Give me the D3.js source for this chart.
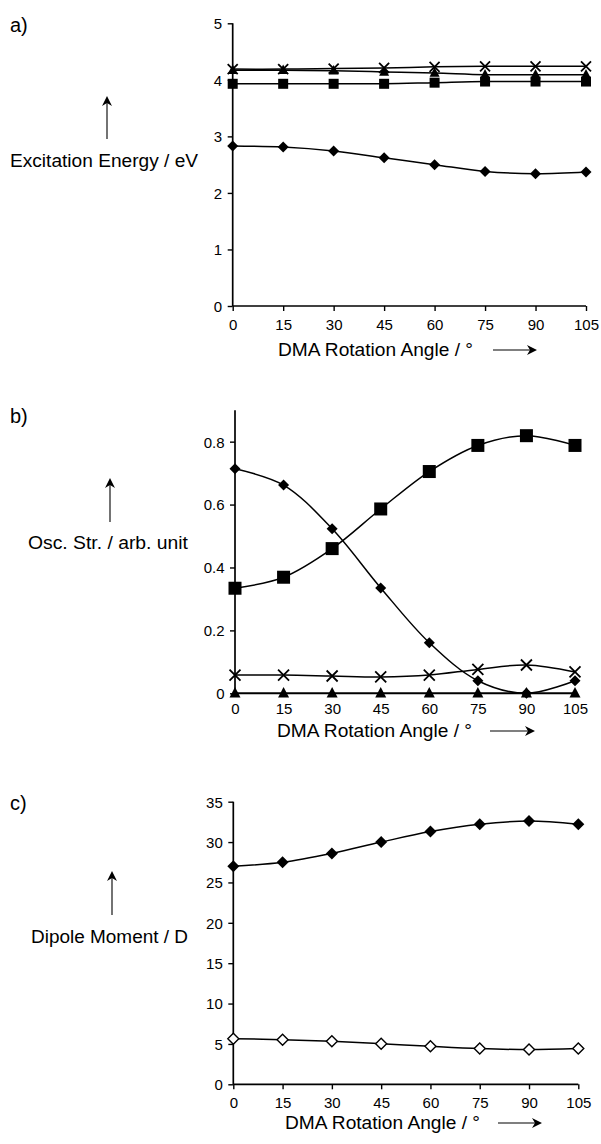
<!DOCTYPE html>
<html><head><meta charset="utf-8">
<script src="https://cdn.jsdelivr.net/npm/d3@7"></script>
<style>
body{margin:0;background:#fff;}
svg text{font-family:"Liberation Sans",Arial,sans-serif;fill:#000;}
</style></head>
<body>
<svg id="c" width="601" height="1144"></svg>
<script>
// ---------- data ----------
const angles = [0, 15, 30, 45, 60, 75, 90, 105];
const xTickLabels = ["0","15","30","45","60","75","90","105"];

// a) Excitation energy / eV
const excDiamond  = [2.83, 2.81, 2.74, 2.62, 2.50, 2.38, 2.34, 2.37];
const excSquare   = [3.93, 3.93, 3.93, 3.93, 3.95, 3.97, 3.97, 3.97];
const excTriangle = [4.17, 4.17, 4.16, 4.14, 4.12, 4.09, 4.09, 4.09];
const excCross    = [4.19, 4.19, 4.20, 4.21, 4.23, 4.24, 4.24, 4.24];
const excTicks = [0, 1, 2, 3, 4, 5];

// b) Oscillator strength / arb. unit
const oscDiamond  = [0.714, 0.662, 0.523, 0.335, 0.161, 0.040, 0.000, 0.040];
const oscSquare   = [0.334, 0.369, 0.460, 0.586, 0.705, 0.788, 0.819, 0.788];
const oscCross    = [0.058, 0.058, 0.055, 0.052, 0.058, 0.076, 0.090, 0.068];
const oscTriangle = [0, 0, 0, 0, 0, 0, 0, 0];
const oscTicks = [0, 0.2, 0.4, 0.6, 0.8];
const oscTickLabels = ["0","0.2","0.4","0.6","0.8"];

// c) Dipole moment / D
const dipFilled = [27.0, 27.5, 28.6, 30.0, 31.3, 32.2, 32.6, 32.2];
const dipOpen   = [5.65, 5.53, 5.32, 5.03, 4.70, 4.42, 4.30, 4.42];
const dipTicks = [0, 5, 10, 15, 20, 25, 30, 35];

const panelLabels = ["a)", "b)", "c)"];
const yTitles = ["Excitation Energy / eV", "Osc. Str. / arb. unit", "Dipole Moment / D"];
const xTitle = "DMA Rotation Angle / °";

// ---------- drawing ----------
const svg = d3.select("#c");

function arrowUp(g, x, y1, y2){
  g.append("line").attr("x1",x).attr("x2",x).attr("y1",y1).attr("y2",y2+6)
    .attr("stroke","#000").attr("stroke-width",1.1);
  g.append("path").attr("d",`M${x},${y2} L${x-5},${y2+10} L${x},${y2+7} L${x+5},${y2+10} Z`).attr("fill","#000");
}
function arrowRight(g, x1, x2, y){
  g.append("line").attr("x1",x1).attr("x2",x2-6).attr("y1",y).attr("y2",y)
    .attr("stroke","#000").attr("stroke-width",1.1);
  g.append("path").attr("d",`M${x2},${y} L${x2-10},${y-5} L${x2-7},${y} L${x2-10},${y+5} Z`).attr("fill","#000");
}

function marker(g, type, x, y, s){
  if(type==="diamond"){
    g.append("path").attr("d",`M${x},${y-s} L${x+s},${y} L${x},${y+s} L${x-s},${y} Z`).attr("fill","#000");
  } else if(type==="odiamond"){
    g.append("path").attr("d",`M${x},${y-s} L${x+s},${y} L${x},${y+s} L${x-s},${y} Z`)
      .attr("fill","#fff").attr("stroke","#000").attr("stroke-width",1.4);
  } else if(type==="square"){
    g.append("rect").attr("x",x-s).attr("y",y-s).attr("width",2*s).attr("height",2*s).attr("fill","#000");
  } else if(type==="triangle"){
    g.append("path").attr("d",`M${x},${y-s*1.15} L${x+s},${y+s*0.75} L${x-s},${y+s*0.75} Z`).attr("fill","#000");
  } else if(type==="cross"){
    g.append("path").attr("d",`M${x-s},${y-s} L${x+s},${y+s} M${x-s},${y+s} L${x+s},${y-s}`)
      .attr("stroke","#000").attr("stroke-width",1.8).attr("fill","none");
  }
}

function panel(cfg){
  const g = svg.append("g");
  const x = d3.scaleLinear().domain([0,105]).range(cfg.xr);
  const y = d3.scaleLinear().domain(cfg.yd).range(cfg.yr);

  // y axis
  const ya = d3.axisLeft(y).tickValues(cfg.yTicks).tickSize(5).tickPadding(5.5)
     .tickFormat((d,i)=>cfg.yTickLabels ? cfg.yTickLabels[i] : d);
  const yg = g.append("g").attr("transform",`translate(${cfg.xr[0]},0)`).call(ya);
  yg.select(".domain").attr("d",`M${0},${cfg.yr[0]}V${cfg.yr[1]}`).attr("stroke-width",1.7);
  yg.selectAll(".tick line").attr("stroke-width",1.4);
  yg.selectAll("text").style("font-size","15px").attr("dy","0.36em");

  // x axis
  const xa = d3.axisBottom(x).tickValues(angles).tickSize(cfg.xTickSize).tickPadding(cfg.xPad)
     .tickFormat((d,i)=>xTickLabels[i]);
  const xg = g.append("g").attr("transform",`translate(0,${cfg.yr[0]})`).call(xa);
  xg.select(".domain").attr("d",`M${cfg.xr[0]},0H${cfg.xr[1]}`).attr("stroke-width",1.7);
  xg.selectAll(".tick line").attr("stroke-width",1.4);
  xg.selectAll("text").style("font-size","15px");

  const line = d3.line().x((d,i)=>x(angles[i])).y(d=>y(d)).curve(d3.curveCatmullRom.alpha(0.5));
  cfg.series.forEach(s=>{
    g.append("path").attr("d",line(s.v)).attr("fill","none").attr("stroke","#000").attr("stroke-width",1.5);
  });
  cfg.series.forEach(s=>{
    s.v.forEach((v,i)=>marker(g, s.m, x(angles[i]), y(v), s.s));
  });

  // labels
  g.append("text").attr("x",10).attr("y",cfg.labY).style("font-size","20px").text(cfg.label);
  g.append("text").attr("x",cfg.ytX).attr("y",cfg.ytY).attr("text-anchor","middle").style("font-size","17.5px")
    .attr("textLength",cfg.ytW).attr("lengthAdjust","spacingAndGlyphs").text(cfg.ytitle);
  arrowUp(g, cfg.arX, cfg.arY1, cfg.arY2);
  g.append("text").attr("x",cfg.xtX).attr("y",cfg.xtY).attr("text-anchor","middle").style("font-size","17.5px")
    .attr("textLength",195).attr("lengthAdjust","spacingAndGlyphs").text(xTitle);
  arrowRight(g, cfg.axA, cfg.axB, cfg.xtY-6);
}

panel({
  xr:[232.7,586], yd:[0,5], yr:[306,23.3], yTicks:excTicks, xTickSize:5, xPad:8,
  series:[
    {v:excDiamond, m:"diamond", s:5.5},
    {v:excSquare, m:"square", s:5},
    {v:excTriangle, m:"triangle", s:5},
    {v:excCross, m:"cross", s:5}
  ],
  label:panelLabels[0], labY:32, ytitle:yTitles[0], ytW:188, ytX:104, ytY:167, arX:107, arY1:139, arY2:96,
  xtX:375.5, xtY:356, axA:493, axB:537
});

panel({
  xr:[235,575], yd:[0,0.9], yr:[693.3,410.2], yTicks:oscTicks, yTickLabels:oscTickLabels, xTickSize:0, xPad:10,
  series:[
    {v:oscTriangle, m:"triangle", s:5.5},
    {v:oscCross, m:"cross", s:5.5},
    {v:oscDiamond, m:"diamond", s:5.5},
    {v:oscSquare, m:"square", s:6.5}
  ],
  label:panelLabels[1], labY:423, ytitle:yTitles[1], ytW:160, ytX:108, ytY:549, arX:110, arY1:522, arY2:478,
  xtX:374.5, xtY:737, axA:490, axB:535
});

panel({
  xr:[233.3,578.3], yd:[0,35], yr:[1084.3,801.7], yTicks:dipTicks, xTickSize:5, xPad:8,
  series:[
    {v:dipFilled, m:"diamond", s:6},
    {v:dipOpen, m:"odiamond", s:5.5}
  ],
  label:panelLabels[2], labY:810, ytitle:yTitles[2], ytW:157, ytX:109.5, ytY:943, arX:112, arY1:915, arY2:871,
  xtX:382.5, xtY:1129, axA:498, axB:542
});
</script>
</body></html>
